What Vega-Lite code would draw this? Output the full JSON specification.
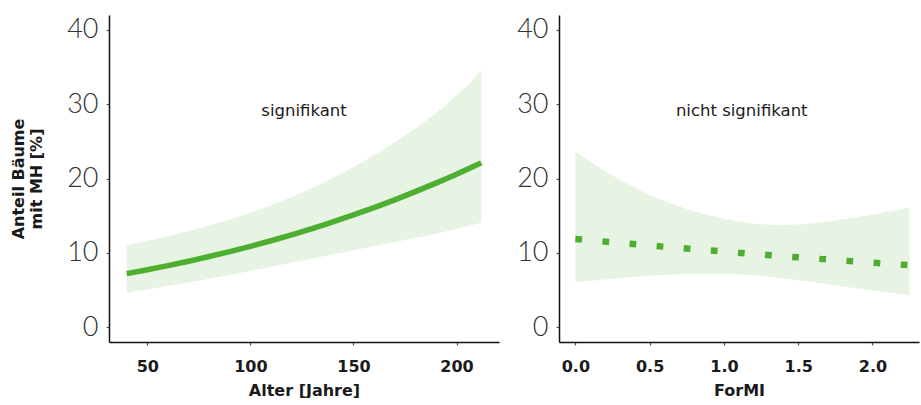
{
  "$schema": "https://vega.github.io/schema/vega-lite/v6.json",
  "padding": {"left": 10, "top": 15, "right": 0, "bottom": 0},
  "background": "white",
  "config": {
    "view": {"stroke": null},
    "font": "DejaVu Sans",
    "axis": {
      "grid": false,
      "domainColor": "#111111",
      "domainWidth": 1.5,
      "tickColor": "#555555",
      "tickSize": 3,
      "tickWidth": 1.2,
      "labelFont": "DejaVu Sans",
      "titleFont": "DejaVu Sans",
      "titleFontWeight": "bold",
      "titleColor": "#1a1a1a",
      "titleFontSize": 16
    },
    "axisX": {"labelFontSize": 16, "labelFontWeight": "bold", "labelColor": "#1a1a1a", "labelPadding": 13, "titlePadding": 8},
    "axisY": {"labelFont": "Lato", "labelFontSize": 27, "labelFontWeight": 300, "labelColor": "#333333", "labelPadding": 8}
  },
  "datasets": {
    "age": [
      {"x": 40, "lo": 4.63, "fit": 7.20, "hi": 11.05},
      {"x": 50, "lo": 5.06, "fit": 7.72, "hi": 11.61},
      {"x": 60, "lo": 5.52, "fit": 8.28, "hi": 12.24},
      {"x": 70, "lo": 6.00, "fit": 8.87, "hi": 12.92},
      {"x": 80, "lo": 6.50, "fit": 9.50, "hi": 13.67},
      {"x": 90, "lo": 7.02, "fit": 10.16, "hi": 14.49},
      {"x": 100, "lo": 7.56, "fit": 10.87, "hi": 15.40},
      {"x": 110, "lo": 8.10, "fit": 11.62, "hi": 16.41},
      {"x": 120, "lo": 8.65, "fit": 12.42, "hi": 17.52},
      {"x": 130, "lo": 9.20, "fit": 13.26, "hi": 18.74},
      {"x": 140, "lo": 9.76, "fit": 14.16, "hi": 20.09},
      {"x": 150, "lo": 10.32, "fit": 15.10, "hi": 21.55},
      {"x": 160, "lo": 10.88, "fit": 16.09, "hi": 23.14},
      {"x": 170, "lo": 11.44, "fit": 17.13, "hi": 24.85},
      {"x": 180, "lo": 12.01, "fit": 18.23, "hi": 26.75},
      {"x": 190, "lo": 12.58, "fit": 19.38, "hi": 28.80},
      {"x": 200, "lo": 13.20, "fit": 20.58, "hi": 31.20},
      {"x": 210, "lo": 13.90, "fit": 21.84, "hi": 33.90},
      {"x": 212, "lo": 14.10, "fit": 22.10, "hi": 34.60}
    ],
    "formi": [
      {"x": 0, "lo": 6.0, "fit": 11.87, "hi": 23.6},
      {"x": 0.25, "lo": 6.5, "fit": 11.42, "hi": 20.4},
      {"x": 0.5, "lo": 6.9, "fit": 10.99, "hi": 17.8},
      {"x": 0.75, "lo": 7.1, "fit": 10.57, "hi": 15.9},
      {"x": 1.0, "lo": 7.15, "fit": 10.16, "hi": 14.6},
      {"x": 1.25, "lo": 6.9, "fit": 9.77, "hi": 13.85},
      {"x": 1.5, "lo": 6.3, "fit": 9.39, "hi": 13.8},
      {"x": 1.75, "lo": 5.6, "fit": 9.03, "hi": 14.35},
      {"x": 2.0, "lo": 4.95, "fit": 8.67, "hi": 15.15},
      {"x": 2.25, "lo": 4.3, "fit": 8.33, "hi": 16.1}
    ],
    "noteAge": [{"x": 126, "y": 28.4, "label": "signifikant"}],
    "noteFormi": [{"x": 1.12, "y": 28.4, "label": "nicht signifikant"}]
  },
  "spacing": 17,
  "hconcat": [
    {
      "width": 390,
      "height": 327,
      "layer": [
        {
          "data": {"name": "age"},
          "mark": {"type": "area", "color": "#e8f4e3", "interpolate": "monotone"},
          "encoding": {
            "x": {"field": "x", "type": "quantitative", "scale": {"domain": [31.4, 220.6], "nice": false, "zero": false},
                  "axis": {"title": "Alter [Jahre]", "values": [50, 100, 150, 200]}},
            "y": {"field": "lo", "type": "quantitative", "scale": {"domain": [-2, 42], "nice": false, "zero": false},
                  "axis": {"title": ["Anteil Bäume", "mit MH [%]"], "values": [0, 10, 20, 30, 40], "titlePadding": 22}},
            "y2": {"field": "hi"}
          }
        },
        {
          "data": {"name": "age"},
          "mark": {"type": "line", "color": "#4dae2f", "strokeWidth": 5.5, "interpolate": "monotone"},
          "encoding": {
            "x": {"field": "x", "type": "quantitative"},
            "y": {"field": "fit", "type": "quantitative"}
          }
        },
        {
          "data": {"name": "noteAge"},
          "mark": {"type": "text", "fontSize": 16.5, "color": "#1a1a1a", "baseline": "alphabetic", "align": "center"},
          "encoding": {
            "x": {"field": "x", "type": "quantitative"},
            "y": {"field": "y", "type": "quantitative"},
            "text": {"field": "label"}
          }
        }
      ]
    },
    {
      "width": 360,
      "height": 327,
      "layer": [
        {
          "data": {"name": "formi"},
          "mark": {"type": "area", "color": "#e8f4e3", "interpolate": "natural"},
          "encoding": {
            "x": {"field": "x", "type": "quantitative", "scale": {"domain": [-0.11, 2.313], "nice": false, "zero": false},
                  "axis": {"title": "ForMI", "values": [0, 0.5, 1, 1.5, 2], "format": ".1f"}},
            "y": {"field": "lo", "type": "quantitative", "scale": {"domain": [-2, 42], "nice": false, "zero": false},
                  "axis": {"title": null, "values": [0, 10, 20, 30, 40]}},
            "y2": {"field": "hi"}
          }
        },
        {
          "data": {"name": "formi"},
          "mark": {"type": "line", "color": "#4dae2f", "strokeWidth": 6.5, "strokeDash": [6.7, 20.5], "strokeCap": "butt", "interpolate": "monotone"},
          "encoding": {
            "x": {"field": "x", "type": "quantitative"},
            "y": {"field": "fit", "type": "quantitative"}
          }
        },
        {
          "data": {"name": "noteFormi"},
          "mark": {"type": "text", "fontSize": 16.5, "color": "#1a1a1a", "baseline": "alphabetic", "align": "center"},
          "encoding": {
            "x": {"field": "x", "type": "quantitative"},
            "y": {"field": "y", "type": "quantitative"},
            "text": {"field": "label"}
          }
        }
      ]
    }
  ]
}
